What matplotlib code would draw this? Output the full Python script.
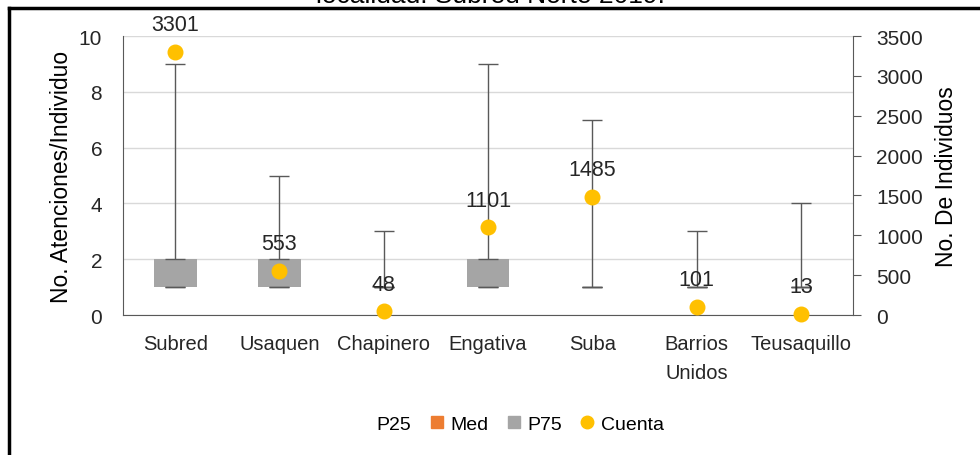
import matplotlib.pyplot as plt
import matplotlib.lines as mlines
import matplotlib.patches as mpatches
import numpy as np

plt.rcParams['font.family'] = ['Liberation Sans Narrow', 'Liberation Sans', 'DejaVu Sans']

categories = ['Subred', 'Usaquen', 'Chapinero', 'Engativa', 'Suba', 'Barrios\nUnidos', 'Teusaquillo']
p25 = [1, 1, 1, 1, 1, 1, 1]
med = [1, 1, 1, 1, 1, 1, 1]
p75 = [2, 2, 1, 2, 1, 1, 1]
vmin = [1, 1, 1, 1, 1, 1, 1]
vmax = [9, 5, 3, 9, 7, 3, 4]
cuenta = [3301, 553, 48, 1101, 1485, 101, 13]

GREY = '#A5A5A5'
ORANGE = '#ED7D31'
GOLD = '#FFC000'
AXC = '#595959'
TXT = '#262626'

fig = plt.figure(figsize=(9.8, 4.56), dpi=100)
ax = fig.add_axes([123 / 980, 1 - 316 / 456, 730 / 980, 279 / 456])
ax2 = ax.twinx()

x = np.arange(len(categories))
p25 = np.array(p25)
med = np.array(med)
p75 = np.array(p75)
w = 0.41

# stacked box: invisible P25, Med, P75
ax.bar(x, p25, w, color='none')
ax.bar(x, med - p25, w, bottom=p25, color=ORANGE)
ax.bar(x, p75 - med, w, bottom=med, color=GREY)

# whiskers
ax.errorbar(x, p75, yerr=[np.zeros(len(x)), np.array(vmax) - p75], fmt='none',
            ecolor=AXC, elinewidth=1, capsize=7, capthick=1, zorder=3)
ax.errorbar(x, p25, yerr=[p25 - np.array(vmin), np.zeros(len(x))], fmt='none',
            ecolor=AXC, elinewidth=1, capsize=7, capthick=1, zorder=1)

ax.set_xlim(-0.5, len(categories) - 0.5)
ax.set_ylim(0, 10)
ax.set_yticks(range(0, 11, 2))
ax.set_xticks(x)
ax.set_xticklabels(categories, fontsize=14.5, color=TXT, linespacing=1.65)
ax.tick_params(axis='x', length=0, pad=14)
ax.tick_params(axis='y', length=0, pad=15, labelsize=15, labelcolor=TXT)
ax.yaxis.grid(True, color='#D9D9D9', lw=1)
ax.set_axisbelow(True)
ax.set_ylabel('No. Atenciones/Individuo', fontsize=16.5, color='#000000', labelpad=4)
for s in ['top', 'right']:
    ax.spines[s].set_visible(False)
for s in ['left', 'bottom']:
    ax.spines[s].set_color(AXC)

ax2.scatter(x, cuenta, s=110, color=GOLD, zorder=5, clip_on=False)
for xi, c in zip(x, cuenta):
    ax2.annotate(str(c), (xi, c), xytext=(0, 12), textcoords='offset points',
                 ha='center', va='bottom', fontsize=15.5, color=TXT)
ax2.set_ylim(0, 3500)
ax2.set_yticks(range(0, 3501, 500))
ax2.tick_params(axis='y', length=5.5, color=AXC, labelsize=15, labelcolor=TXT, pad=11)
ax2.set_ylabel('No. De Individuos', fontsize=16.5, color='#000000', labelpad=9)
for s in ['top', 'left', 'bottom']:
    ax2.spines[s].set_visible(False)
ax2.spines['right'].set_color(AXC)

handles = [
    mpatches.Patch(color='none', label='P25'),
    mlines.Line2D([], [], ls='none', marker='s', ms=8, color=ORANGE, label='Med'),
    mlines.Line2D([], [], ls='none', marker='s', ms=8, color=GREY, label='P75'),
    mlines.Line2D([], [], ls='none', marker='o', ms=9, color=GOLD, label='Cuenta'),
]
fig.legend(handles=handles, loc='center', bbox_to_anchor=(0.52, 1 - 425 / 456), ncol=4,
           frameon=False, fontsize=14, handlelength=0.8, handletextpad=0.3, columnspacing=0.9)

# cut-off title and frame
fig.text(0.5, 1.008, 'localidad. Subred Norte 2019.', ha='center', va='center', fontsize=19)
fig.add_artist(mlines.Line2D([9 / 980, 1], [1 - 9 / 456] * 2, transform=fig.transFigure, color='black', lw=2.5))
fig.add_artist(mlines.Line2D([9 / 980] * 2, [0, 1 - 9 / 456], transform=fig.transFigure, color='black', lw=2.5))

fig.savefig('out.png', dpi=100)
